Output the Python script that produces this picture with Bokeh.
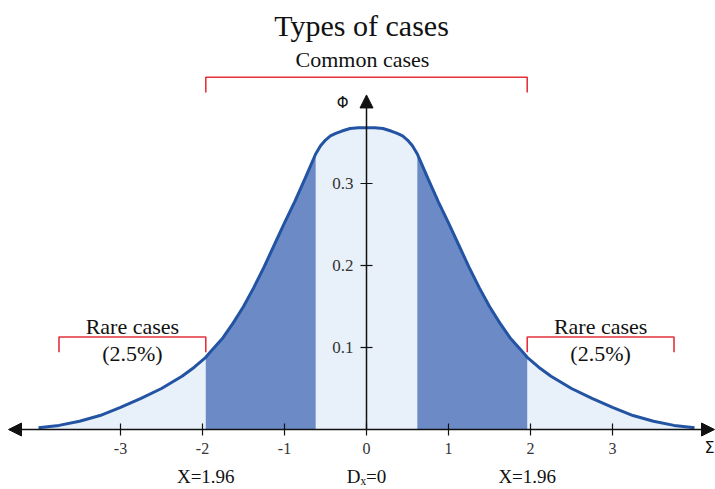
from bokeh.plotting import figure
from bokeh.models import Arrow, NormalHead, Range1d
from bokeh.core.properties import value
from bokeh.embed import file_html
from bokeh.resources import INLINE
import numpy as np

# ---- data ----
x_vals = [-4.0, -3.75, -3.5, -3.25, -3.0, -2.75, -2.5, -2.25, -2.1, -1.96, -1.875, -1.75,
          -1.625, -1.5, -1.375, -1.25, -1.125, -1.0, -0.875, -0.75, -0.68, -0.62, -0.56,
          -0.5, -0.44, -0.375, -0.3, -0.2, -0.1, 0.0,
          0.1, 0.2, 0.3, 0.375, 0.44, 0.5, 0.56, 0.62, 0.68, 0.75, 0.875, 1.0, 1.125,
          1.25, 1.375, 1.5, 1.625, 1.75, 1.875, 1.96, 2.1, 2.25, 2.5, 2.75, 3.0, 3.25,
          3.5, 3.75, 4.0]
phi_vals = [0.002, 0.005, 0.010, 0.017, 0.027, 0.038, 0.050, 0.065, 0.076, 0.088, 0.098, 0.112,
            0.130, 0.150, 0.173, 0.198, 0.225, 0.252, 0.278, 0.306, 0.322, 0.336, 0.346,
            0.353, 0.358, 0.361, 0.364, 0.367, 0.368, 0.368,
            0.368, 0.367, 0.364, 0.361, 0.358, 0.353, 0.346, 0.336, 0.322, 0.306, 0.278, 0.252, 0.225,
            0.198, 0.173, 0.150, 0.130, 0.112, 0.098, 0.088, 0.076, 0.065, 0.050, 0.038, 0.027, 0.017,
            0.010, 0.005, 0.002]
band_left = (-1.96, -0.62)
band_right = (0.62, 1.96)

x_ticks = [-3, -2, -1, 0, 1, 2, 3]
x_tick_labels = ["-3", "-2", "-1", "0", "1", "2", "3"]
y_ticks = [0.1, 0.2, 0.3]
y_tick_labels = ["0.1", "0.2", "0.3"]

common_span = (-1.96, 1.96)
rare_left_span = (-3.75, -1.96)
rare_right_span = (1.96, 3.75)
bottom_label_x = [-1.96, 0.0, 1.96]
bottom_labels = ["X=1.96", "D\u2093=0", "X=1.96"]

# ---- geometry ----
W, H = 715, 489
XS, YS = 82.0, 820.0
x0_px, y0_px = 366.0, 429.0
x_start, x_end = -x0_px / XS, (W - x0_px) / XS
y_start, y_end = -(H - y0_px) / YS, y0_px / YS

p = figure(width=W, height=H, x_range=Range1d(x_start, x_end), y_range=Range1d(y_start, y_end),
           output_backend="svg", toolbar_location=None, x_axis_location=None, y_axis_location=None,
           min_border=0, min_border_left=0, min_border_right=0, min_border_top=0, min_border_bottom=0)
p.grid.visible = False
p.outline_line_color = None
p.background_fill_color = "white"
p.border_fill_color = "white"

x = np.array(x_vals)
phi = np.array(phi_vals)

p.varea(x=x, y1=0, y2=phi, fill_color="#e8f0f9")
for lo, hi in (band_left, band_right):
    m = (x >= lo - 1e-9) & (x <= hi + 1e-9)
    p.varea(x=x[m], y1=0, y2=phi[m], fill_color="#6c8bc6")
p.line(x, phi, line_color="#2353a3", line_width=3, line_join="round")

# axes
ink = "#111111"
p.add_layout(Arrow(start=NormalHead(size=13, fill_color=ink, line_color=ink),
                   end=NormalHead(size=13, fill_color=ink, line_color=ink),
                   x_start=x_start + 8 / XS, y_start=0, x_end=x_end - 1 / XS, y_end=0,
                   line_color=ink, line_width=1.5))
p.add_layout(Arrow(end=NormalHead(size=13, fill_color=ink, line_color=ink),
                   x_start=0, y_start=0, x_end=0, y_end=0.408,
                   line_color=ink, line_width=1.5))

p.segment(x0=x_ticks, y0=[-6 / YS] * len(x_ticks), x1=x_ticks, y1=[6 / YS] * len(x_ticks),
          line_color=ink, line_width=1.2)
p.segment(x0=[-6 / XS] * len(y_ticks), y0=y_ticks, x1=[6 / XS] * len(y_ticks), y1=y_ticks,
          line_color=ink, line_width=1.2)

serif = value("Liberation Serif")
p.text(x=x_ticks, y=[-0.0232] * len(x_ticks), text=x_tick_labels, text_font=serif,
       text_font_size="16px", text_align="center", text_baseline="middle", text_color="#333333")
p.text(x=[-13 / XS] * len(y_ticks), y=y_ticks, text=y_tick_labels, text_font=serif,
       text_font_size="17px", text_align="right", text_baseline="middle", text_color="#333333")

p.text(x=bottom_label_x, y=[-0.0578] * 3, text=bottom_labels, text_font=serif,
       text_font_size="19px", text_align="center", text_baseline="middle", text_color=ink)

p.text(x=[x_end - 1 / XS], y=[-0.022], text=["\u03a3"], text_font=value("DejaVu Sans"),
       text_font_size="16px", text_align="right", text_baseline="middle", text_color=ink)
p.text(x=[-0.29], y=[0.3976], text=["\u03a6"], text_font=value("DejaVu Sans"),
       text_font_size="15px", text_align="center", text_baseline="middle", text_color=ink)

# title and brackets
p.text(x=[-0.06], y=[0.4927], text=["Types of cases"], text_font=serif, text_font_size="30px",
       text_align="center", text_baseline="middle", text_color=ink)

red = "#e3323b"
def bracket(span, top, bottom):
    lo, hi = span
    p.multi_line(xs=[[lo, lo, hi, hi]], ys=[[bottom, top, top, bottom]], line_color=red, line_width=1.6)

bracket(common_span, 0.4296, 0.411)
bracket(rare_left_span, 0.1128, 0.0943)
bracket(rare_right_span, 0.1128, 0.0943)

p.text(x=[sum(common_span) / 2 - 0.05], y=[0.4512], text=["Common cases"], text_font=serif,
       text_font_size="22px", text_align="center", text_baseline="middle", text_color=ink)
for span in (rare_left_span, rare_right_span):
    cx = sum(span) / 2
    p.text(x=[cx], y=[0.1256], text=["Rare cases"], text_font=serif, text_font_size="22px",
           text_align="center", text_baseline="middle", text_color=ink)
    p.text(x=[cx], y=[0.0925], text=["(2.5%)"], text_font=serif, text_font_size="22px",
           text_align="center", text_baseline="middle", text_color=ink)

open("out.html", "w").write(file_html(p, INLINE))
